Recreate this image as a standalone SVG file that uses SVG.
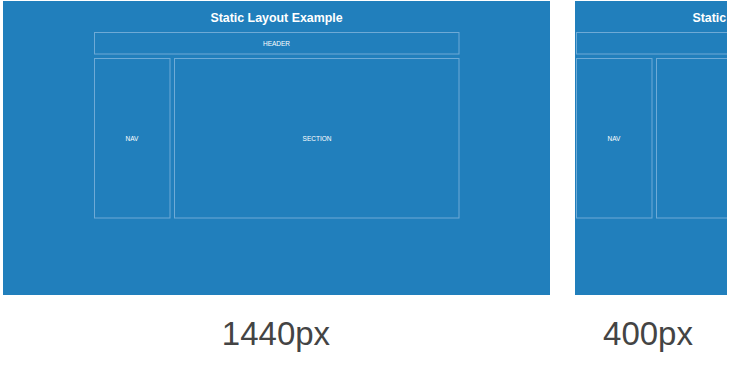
<svg xmlns="http://www.w3.org/2000/svg" width="733" height="366" viewBox="0 0 733 366">
  <defs>
    <style>
      .screen { fill: #217fbc; }
      .box { fill: none; stroke: #6eaad6; stroke-width: 1; }
      .title { font-family: "Liberation Sans", Arial, sans-serif; font-weight: bold; font-size: 12.4px; fill: #ffffff; text-anchor: middle; }
      .lbl { font-family: "Liberation Sans", Arial, sans-serif; font-size: 6.5px; fill: #ffffff; text-anchor: middle; dominant-baseline: central; }
      .width { font-family: "Liberation Sans", Arial, sans-serif; font-size: 33px; fill: #444444; text-anchor: middle; }
    </style>
    <clipPath id="narrowClip">
      <rect x="575" y="1" width="152" height="294"/>
    </clipPath>
    <!-- page layout, drawn once and reused for both widths -->
    <g id="layout">
      <text class="title" x="276.5" y="21.5">Static Layout Example</text>
      <g id="header">
        <rect class="box" x="94.5" y="32.5" width="364.5" height="21.5"/>
        <text class="lbl" x="276.5" y="43.5">HEADER</text>
      </g>
      <g id="nav">
        <rect class="box" x="94.5" y="58.5" width="75.5" height="159.5"/>
        <text class="lbl" x="132" y="138.5">NAV</text>
      </g>
      <g id="section">
        <rect class="box" x="174.5" y="58.5" width="284.5" height="159.5"/>
        <text class="lbl" x="317" y="138.5">SECTION</text>
      </g>
    </g>
  </defs>

  <rect width="733" height="366" fill="#ffffff"/>

  <!-- 1440px viewport -->
  <g id="wide">
    <rect class="screen" x="3" y="1" width="547" height="294"/>
    <use href="#layout"/>
  </g>

  <!-- 400px viewport: same layout, cropped -->
  <g id="narrow" clip-path="url(#narrowClip)">
    <rect class="screen" x="575" y="1" width="152" height="294"/>
    <use href="#layout" x="482"/>
  </g>

  <text class="width" x="276" y="345">1440px</text>
  <text class="width" x="648" y="345">400px</text>
</svg>
